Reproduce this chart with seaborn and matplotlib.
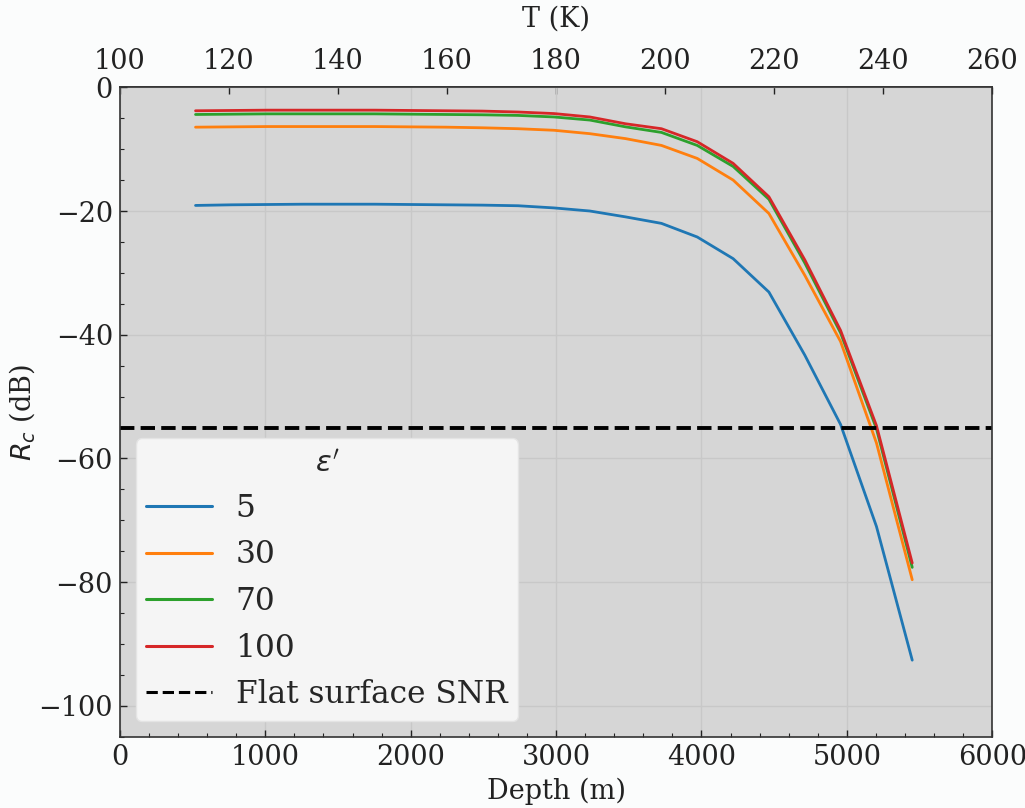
import numpy as np
import pandas as pd
import matplotlib
matplotlib.use("Agg")
import matplotlib.pyplot as plt
import seaborn as sns
from matplotlib.ticker import MultipleLocator

# ---- data ----
depth_m = [520, 767, 1013, 1260, 1506, 1753, 1999, 2246, 2492, 2739, 2985,
           3232, 3478, 3725, 3971, 4218, 4464, 4711, 4957, 5204, 5450]
eps_labels = ["5", "30", "70", "100"]
rc_eps5 = [-19.1, -19.0, -18.95, -18.9, -18.9, -18.9, -18.95, -19.0, -19.05, -19.15, -19.5,
           -20.0, -20.95, -22.0, -24.2, -27.7, -33.1, -43.3, -54.5, -71.0, -92.6]
rc_eps30 = [-6.45, -6.4, -6.35, -6.35, -6.35, -6.35, -6.4, -6.45, -6.55, -6.7, -6.95,
            -7.5, -8.3, -9.4, -11.5, -15.0, -20.4, -30.4, -41.1, -57.5, -79.6]
rc_eps70 = [-4.4, -4.35, -4.3, -4.3, -4.3, -4.3, -4.35, -4.4, -4.45, -4.55, -4.8,
            -5.3, -6.4, -7.3, -9.4, -12.8, -18.1, -28.4, -39.7, -55.2, -77.6]
rc_eps100 = [-3.8, -3.75, -3.7, -3.7, -3.7, -3.7, -3.75, -3.8, -3.85, -4.0, -4.25,
             -4.8, -5.9, -6.7, -8.8, -12.3, -17.7, -27.9, -39.3, -54.7, -76.9]
flat_snr_db = -55
top_T_ticks = [100, 120, 140, 160, 180, 200, 220, 240, 260]

series = [rc_eps5, rc_eps30, rc_eps70, rc_eps100]
df = pd.DataFrame({
    "Depth": np.tile(depth_m, len(series)),
    "Rc": np.concatenate(series),
    "eps": np.repeat(eps_labels, len(depth_m)),
})

sns.set_theme(style="darkgrid")
plt.rcParams["font.family"] = ["DejaVu Serif"]
plt.rcParams["mathtext.fontset"] = "dejavusans"

fig = plt.figure(figsize=(10.25, 8.08), dpi=100, facecolor="#fbfcfc")
ax = fig.add_axes([0.117, 0.088, 0.851, 0.804])
ax.set_facecolor("#d6d6d6")

palette = ["#1f77b4", "#ff7f0e", "#2ca02c", "#d62728"]
sns.lineplot(data=df, x="Depth", y="Rc", hue="eps", hue_order=eps_labels,
             palette=palette, linewidth=2.0, ax=ax, legend=True)
ax.axhline(flat_snr_db, color="black", linestyle=(0, (3.7, 1.6)), linewidth=2.8,
           label="Flat surface SNR")

ax.set_xlim(0, 6000)
ax.set_ylim(-105, 0)
ax.xaxis.set_major_locator(MultipleLocator(1000))
ax.xaxis.set_minor_locator(MultipleLocator(200))
ax.yaxis.set_major_locator(MultipleLocator(20))
ax.yaxis.set_minor_locator(MultipleLocator(5))
ax.grid(True, which="major", color="#c8c8c8", linewidth=1.0)
ax.grid(False, which="minor")

ax.tick_params(axis="both", which="major", direction="in", length=5, width=1.0,
               labelsize=19.5, colors="#222222", pad=5, left=True, bottom=True)
ax.tick_params(axis="both", which="minor", direction="in", length=3, width=0.8,
               colors="#222222", left=True, bottom=True)
for s in ax.spines.values():
    s.set_color("#333333")
    s.set_linewidth(1.2)
    s.set_visible(True)

ax.set_xlabel("Depth (m)", fontsize=19.5, color="#222222", labelpad=5)
ax.set_ylabel("$R_c$ (dB)", fontsize=19.5, color="#222222", labelpad=1)

to_T = lambda d: 100 + np.asarray(d) * 160.0 / 6000.0
to_D = lambda t: (np.asarray(t) - 100) * 6000.0 / 160.0
sec = ax.secondary_xaxis("top", functions=(to_T, to_D))
sec.set_xticks(top_T_ticks)
sec.tick_params(axis="x", which="major", direction="in", length=5, width=1.0,
                labelsize=19.5, colors="#222222", pad=9)
sec.tick_params(axis="x", which="minor", length=0)
sec.set_xlabel("T (K)", fontsize=19.5, color="#222222", labelpad=15)
sec.spines["top"].set_color("#333333")

handles, labels = ax.get_legend_handles_labels()
leg = ax.legend(handles, labels, title="$\\varepsilon'$", loc="lower left",
                fontsize=22.5, title_fontsize=21, frameon=True, fancybox=True,
                facecolor="#f5f5f5", edgecolor="#e4e4e4", framealpha=1.0,
                handlelength=2.1, handletextpad=0.75, labelspacing=0.5,
                borderpad=0.35, borderaxespad=0.5)
for line in leg.get_lines():
    line.set_linewidth(2.2)

fig.savefig("out.png", dpi=100, facecolor=fig.get_facecolor())
